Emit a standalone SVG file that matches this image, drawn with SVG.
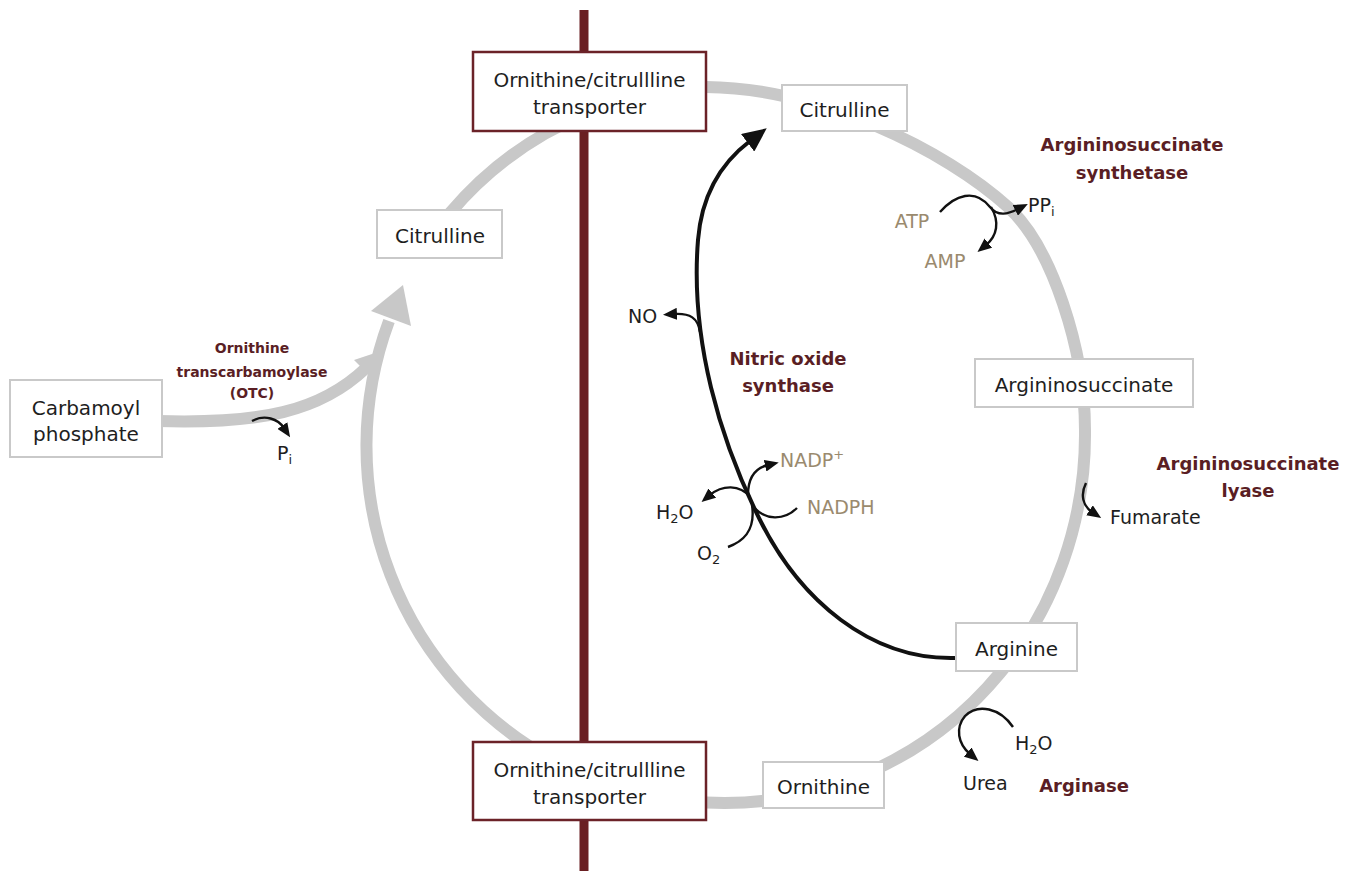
<svg xmlns="http://www.w3.org/2000/svg" width="1355" height="871" viewBox="0 0 1355 871">
<style>
text{font-family:"DejaVu Sans","Liberation Sans",sans-serif;}
.t{font-size:20px;fill:#1e1e1e;text-anchor:middle;}
.s{font-size:19px;fill:#1e1e1e;}
.tan{font-size:19px;fill:#9a8a6e;}
.enz{font-size:18px;font-weight:bold;fill:#5a1e24;text-anchor:middle;}
.enzs{font-size:14px;font-weight:bold;fill:#5a1e24;text-anchor:middle;}
.box{fill:#fff;stroke:#c9c9c9;stroke-width:2;}
.tbox{fill:#fff;stroke:#6b2228;stroke-width:2.5;}
.gray{fill:none;stroke:#c8c8c8;stroke-width:12;}
.blk{fill:none;stroke:#111;stroke-width:2.4;}
.main{fill:none;stroke:#111;stroke-width:4;}
</style>
<defs>
<marker id="big" markerUnits="userSpaceOnUse" markerWidth="24" markerHeight="22" viewBox="0 0 24 22" refX="3" refY="11" orient="auto"><path d="M0,0 L24,11 L0,22 z" fill="#111"/></marker>
<marker id="sm" markerUnits="userSpaceOnUse" markerWidth="14" markerHeight="12" viewBox="0 0 14 12" refX="3" refY="6" orient="auto"><path d="M0,0 L14,6 L0,12 z" fill="#111"/></marker>
</defs>
<rect width="1355" height="871" fill="#fff"/>
<g id="connectors">
<path class="gray" d="M706,87 C820,88 945,150 1008,207 C1052,247 1085,350 1085,430 C1086,520 1055,608 1000,673 A358,358 0 0 1 706,802.6"/>
<path class="gray" d="M590,112 A358,358 0 0 0 450,213"/>
<path class="gray" d="M560,764 A358,358 0 0 1 389,321"/>
<polygon points="403,285 371,311 411,326" fill="#c8c8c8"/>
<path class="gray" d="M158,421 C260,424 320,412 366,368"/>
<polygon points="381,351 354,360 372,378" fill="#c8c8c8"/>
<path class="main" d="M955,658 C870,660 800,600 760,520 C720,440 690,340 698,240 C702,190 725,160 750,141" marker-end="url(#big)"/>
<path class="blk" d="M700,332 C698,318 690,313 674,314" marker-end="url(#sm)"/>
<path class="blk" d="M728,547 C742,542 756,532 752,505"/>
<path class="blk" d="M797,508 C785,520 765,522 752,505"/>
<path class="blk" d="M750,497 C740,484 722,485 710,495" marker-end="url(#sm)"/>
<path class="blk" d="M748,495 C748,478 755,468 768,465" marker-end="url(#sm)"/>
<path class="blk" d="M940,212 C955,195 975,188 990,207 C998,217 1008,214 1018,209" marker-end="url(#sm)"/>
<path class="blk" d="M991,207 C1000,222 997,236 986,245" marker-end="url(#sm)"/>
<path class="blk" d="M1086,483 C1080,495 1083,506 1092,512" marker-end="url(#sm)"/>
<path class="blk" d="M1013,727 C1000,708 978,703 965,716 C955,728 958,744 970,754" marker-end="url(#sm)"/>
<path class="blk" d="M252,421 C265,414 278,419 284,428" marker-end="url(#sm)"/>
</g>
<g id="membrane"><rect x="579.5" y="10" width="9" height="861" fill="#6a1f22"/></g>
<g id="transporter-top"><rect class="tbox" x="473" y="52" width="233" height="79"/><text class="t" x="589.5" y="87">Ornithine/citrullline</text><text class="t" x="589.5" y="114">transporter</text></g>
<g id="transporter-bottom"><rect class="tbox" x="473" y="742" width="233" height="78"/><text class="t" x="589.5" y="777">Ornithine/citrullline</text><text class="t" x="589.5" y="804">transporter</text></g>
<g id="citrulline-cyto"><rect class="box" x="782" y="85" width="125" height="46"/><text class="t" x="844.5" y="117">Citrulline</text></g>
<g id="citrulline-mito"><rect class="box" x="377" y="210" width="125" height="48"/><text class="t" x="440" y="243">Citrulline</text></g>
<g id="carbamoyl"><rect class="box" x="10" y="380" width="152" height="77"/><text class="t" x="86" y="415">Carbamoyl</text><text class="t" x="86" y="441">phosphate</text></g>
<g id="argininosuccinate"><rect class="box" x="975" y="359" width="218" height="48"/><text class="t" x="1084" y="392">Argininosuccinate</text></g>
<g id="arginine"><rect class="box" x="956" y="623" width="121" height="48"/><text class="t" x="1016.5" y="656">Arginine</text></g>
<g id="ornithine"><rect class="box" x="763" y="762" width="121" height="46"/><text class="t" x="823.5" y="794">Ornithine</text></g>
<g id="labels">
<text class="enzs" x="252" y="353">Ornithine</text>
<text class="enzs" x="252" y="377">transcarbamoylase</text>
<text class="enzs" x="252" y="398">(OTC)</text>
<text class="s" x="277" y="460">P<tspan font-size="13" dy="4">i</tspan></text>
<text class="enz" x="1132" y="151">Argininosuccinate</text>
<text class="enz" x="1132" y="179">synthetase</text>
<text class="tan" x="912" y="228" text-anchor="middle">ATP</text>
<text class="tan" x="945" y="268" text-anchor="middle">AMP</text>
<text class="s" x="1028" y="212">PP<tspan font-size="13" dy="4">i</tspan></text>
<text class="enz" x="1248" y="470">Argininosuccinate</text>
<text class="enz" x="1248" y="497">lyase</text>
<text class="s" x="1110" y="524">Fumarate</text>
<text class="enz" x="788" y="365">Nitric oxide</text>
<text class="enz" x="788" y="392">synthase</text>
<text class="s" x="628" y="323">NO</text>
<text class="tan" x="780" y="467">NADP<tspan font-size="13" dy="-8">+</tspan></text>
<text class="tan" x="807" y="514">NADPH</text>
<text class="s" x="656" y="519">H<tspan font-size="13" dy="4">2</tspan><tspan dy="-4">O</tspan></text>
<text class="s" x="697" y="560">O<tspan font-size="13" dy="4">2</tspan></text>
<text class="s" x="1015" y="750">H<tspan font-size="13" dy="4">2</tspan><tspan dy="-4">O</tspan></text>
<text class="s" x="963" y="790">Urea</text>
<text class="enz" x="1084" y="792">Arginase</text>
</g>
</svg>
